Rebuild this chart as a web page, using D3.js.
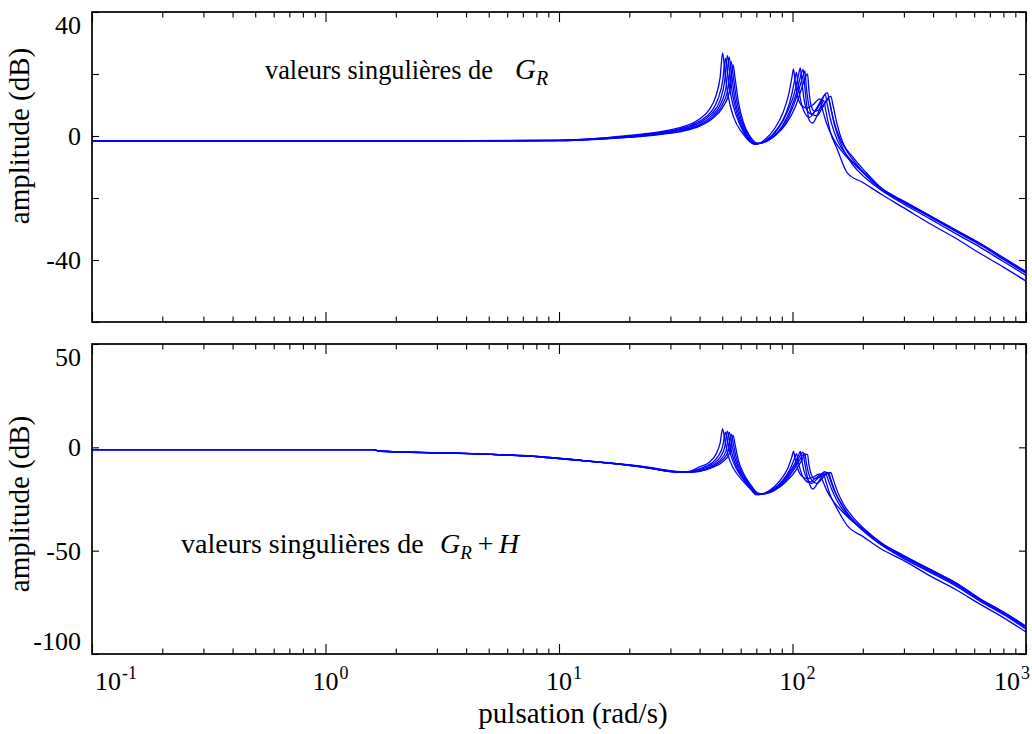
<!DOCTYPE html>
<html>
<head>
<meta charset="utf-8">
<script src="https://cdn.jsdelivr.net/npm/d3@7"></script>
<style>
  body { margin: 0; background: #fff; }
  svg, svg text { font-family: "Liberation Serif", "Times New Roman", serif; fill: #000; }
</style>
</head>
<body>
<div id="chart-container"></div>
<script>
// x axis (rad/s), log scale
const freqDomain = [0.1, 1000];
const decadeTicks = [0.1, 1, 10, 100, 1000];
const decadeExponents = ["-1", "0", "1", "2", "3"];

// y axis of each panel (dB)
const topDomain = [-60, 40];
const topTicks = [40, 20, 0, -20, -40, -60];
const topTickLabels = [40, 0, -40];
const bottomDomain = [-100, 50];
const bottomTicks = [50, 0, -50, -100];
const bottomTickLabels = [50, 0, -50, -100];

// singular values of G_R : [w (rad/s), dB]
const gr1 = [[0.1,-1.6],[3,-1.6],[10,-1.3],[16,-0.5],[22,0.5],[28,1.6],[34,3],[40,5.5],[44,8.5],[47,13],[49,19],[50.2,26.8],[51.3,21],[53,13],[56,6],[61,1],[66,-2],[69,-2.7],[76,-1.2],[84,2.5],[91,7.5],[96,13],[99.5,19],[101,21.6],[102.5,18],[105,13],[109,10],[115,9],[122,10],[128,11.5],[131,12],[134,9],[140,4],[150,-1],[165,-5.5],[180,-8.5],[210,-13],[240,-16.8],[300,-21],[390,-25.8],[500,-30.5],[640,-34.8],[800,-39.5],[1000,-44]];
const gr2 = [[0.1,-1.6],[3,-1.6],[10,-1.4],[16,-0.6],[22,0.3],[28,1.3],[34,2.6],[40,4.8],[45,8],[48,12],[50.3,18],[51.6,25],[52.8,20],[54.5,13],[57.5,6.5],[62,1],[67,-2.2],[70,-2.6],[77,-1.4],[86,2.3],[94,7.5],[99,13],[102.5,18.5],[104,20.5],[105.5,17],[108,12],[112,8],[118,6],[125,8],[133,11],[138,13.5],[141,10],[147,4],[156,-1.5],[170,-6],[190,-10],[240,-17.2],[300,-21.5],[390,-26.2],[500,-30.8],[640,-35.2],[800,-39.8],[1000,-44.3]];
const gr3 = [[0.1,-1.6],[3,-1.6],[10,-1.4],[16,-0.7],[22,0.2],[28,1.1],[34,2.3],[40,4.3],[45,7.2],[49,11.5],[51.3,18],[52.6,26],[53.8,20.5],[55.5,13],[58.5,6],[63,0.5],[68,-2.3],[71,-2.5],[79,-1],[88,3],[96,8.5],[102,14],[106,19.5],[108,22],[109.5,18],[112,12],[116,8],[121,7],[128,9.5],[135,12.5],[141,14],[144,11],[150,5],[160,-1],[175,-6],[195,-10.5],[240,-17],[300,-21.5],[390,-26],[500,-30.6],[640,-35],[800,-39.6],[1000,-44.2]];
const gr4 = [[0.1,-1.6],[3,-1.6],[10,-1.5],[16,-0.8],[22,0],[28,0.9],[34,2],[40,3.8],[45,6.5],[49,10],[52,16],[53.5,25.5],[54.8,20],[56.5,12.5],[59.5,5.5],[64,0.2],[69,-2.4],[72,-2.4],[80,-1],[90,3],[98,8.5],[104,14],[108.5,19.5],[111,21.5],[112.5,17],[115,10],[118,5],[122,4.2],[128,7],[133,10],[136,11.5],[139,8],[145,1.5],[155,-4],[172,-12],[200,-15],[240,-18.8],[300,-23.2],[390,-28.4],[500,-33],[640,-38],[800,-42.3],[1000,-46.8]];
const gr5 = [[0.1,-1.6],[3,-1.6],[10,-1.5],[16,-0.8],[22,-0.1],[28,0.8],[34,1.8],[40,3.5],[46,6.5],[50,10],[53,15.5],[54.6,24],[55.8,19],[57.5,12],[60.5,5],[65,0],[70,-2.4],[73,-2.3],[82,-0.5],[92,3.5],[100,9],[106,14.5],[110.5,19],[113,21],[114.5,16],[117,10.5],[121,7],[127,6.5],[134,9],[140,11.5],[143,12],[146,9],[152,3],[162,-3],[180,-9],[205,-13.5],[240,-17.5],[300,-22],[390,-26.8],[500,-31.5],[640,-36],[800,-40.5],[1000,-45]];
const gr6 = [[0.1,-1.6],[3,-1.6],[10,-1.5],[16,-0.9],[22,-0.2],[28,0.6],[34,1.6],[40,3.2],[46,6],[50,9],[54,15],[55.6,23],[56.8,18.5],[58.5,11.5],[61.5,4.5],[66,-0.3],[71,-2.4],[74,-2.2],[84,0],[94,4],[103,9.5],[109,15],[113.5,19],[116,20],[117.5,15],[120,10],[124,8],[130,8.5],[137,10.5],[143,12.5],[146,12.8],[149,10],[155,4],[165,-2.5],[180,-6.5],[205,-11.5],[240,-16.8],[300,-21.2],[390,-25.8],[500,-30.3],[640,-34.8],[800,-39.2],[1000,-43.7]];

// singular values of G_R + H : [w (rad/s), dB]
const grh1 = [[0.1,-1.1],[1.6,-1.1],[1.7,-1.8],[3.4,-2.7],[5.5,-3.5],[8.3,-4.5],[12.7,-6.4],[18,-8.0],[24,-9.6],[30,-11.3],[35,-11.9],[40,-9.5],[44,-7.2],[47,-3.4],[49,2.2],[50.2,8.9],[51.3,3.6],[53,-3.9],[56,-10.4],[61,-16.0],[66,-20.2],[70,-22.9],[76,-22.1],[84,-18.8],[91,-14.2],[96,-9.5],[99.5,-4.4],[101,-1.9],[102.5,-5.3],[105,-10],[109,-13.7],[115,-15.1],[122,-14.6],[128,-13.2],[131,-12.8],[134,-15.6],[140,-20.7],[150,-26.3],[165,-31.5],[180,-35.7],[210,-41.3],[240,-46.4],[300,-52.5],[390,-59.2],[500,-65.5],[640,-73.5],[800,-79.6],[1000,-86.6]];
const grh2 = [[0.1,-1.1],[1.6,-1.1],[1.7,-1.8],[3.4,-2.7],[5.5,-3.5],[8.3,-4.5],[12.7,-6.4],[18,-8.0],[24,-9.7],[30,-11.5],[35,-12.0],[40,-10.4],[45,-7.6],[48,-4.4],[50.3,0.8],[51.6,7.3],[52.8,2.6],[54.5,-3.9],[57.5,-10.4],[62,-16.0],[67,-20.7],[71,-22.9],[77,-22.1],[86,-18.8],[94,-13.7],[99,-9.0],[102.5,-4.8],[104,-3.0],[105.5,-6.2],[108,-10.9],[112,-15.1],[118,-17.0],[125,-15.1],[133,-12.8],[138,-11.8],[141,-14.6],[147,-20.2],[156,-26.3],[170,-32.4],[190,-37.5],[240,-46.6],[300,-52.9],[390,-59.5],[500,-66.0],[640,-73.8],[800,-80.0],[1000,-86.8]];
const grh3 = [[0.1,-1.1],[1.6,-1.1],[1.7,-1.8],[3.4,-2.8],[5.5,-3.5],[8.3,-4.5],[12.7,-6.4],[18,-8.0],[24,-9.8],[30,-11.6],[35,-12.1],[40,-10.9],[45,-8.3],[49,-4.8],[51.3,0.3],[52.6,7.8],[53.8,2.6],[55.5,-4.4],[58.5,-10.9],[63,-16.5],[68,-21.2],[72,-22.9],[79,-21.6],[88,-17.9],[96,-12.8],[102,-8.1],[106,-3.9],[108,-2.0],[109.5,-5.8],[112,-11.4],[116,-15.6],[121,-17.4],[128,-15.1],[135,-12.8],[141,-12.1],[144,-14.6],[150,-20.2],[160,-26.3],[175,-32.9],[195,-38.5],[240,-46.9],[300,-53.4],[390,-60.0],[500,-66.5],[640,-74.2],[800,-80.5],[1000,-87.3]];
const grh4 = [[0.1,-1.1],[1.6,-1.1],[1.7,-1.9],[3.4,-2.8],[5.5,-3.6],[8.3,-4.7],[12.7,-6.5],[18,-8.1],[24,-9.9],[30,-11.7],[35,-12.1],[40,-11.6],[45,-9.0],[49,-6.2],[52,-1.6],[53.5,7.3],[54.8,2.2],[56.5,-4.8],[59.5,-11.4],[64,-17.0],[69,-21.6],[73,-22.7],[80,-21.6],[90,-17.4],[98,-12.3],[104,-7.6],[108.5,-3.4],[111,-2.3],[112.5,-6.7],[115,-12.8],[118,-17.4],[122,-20.2],[128,-17.4],[133,-14.6],[136,-13.2],[139,-16.5],[145,-23.0],[155,-29.6],[172,-38.0],[200,-43.1],[240,-49.2],[300,-54.8],[390,-62.3],[500,-68.8],[640,-76.1],[800,-82.4],[1000,-89.4]];
const grh5 = [[0.1,-1.1],[1.6,-1.1],[1.7,-1.9],[3.4,-2.8],[5.5,-3.6],[8.3,-4.7],[12.7,-6.5],[18,-8.1],[24,-9.9],[30,-11.7],[35,-12.0],[40,-11.4],[46,-9.0],[50,-6.2],[53,-2.0],[54.6,6.4],[55.8,1.7],[57.5,-5.3],[60.5,-11.8],[65,-17.4],[70,-21.9],[74,-22.6],[82,-21.2],[92,-17.0],[100,-11.8],[106,-7.2],[110.5,-3.9],[113,-3.0],[114.5,-7.2],[117,-12.3],[121,-16.0],[127,-17.4],[134,-15.1],[140,-12.8],[143,-12.6],[146,-15.6],[152,-21.2],[162,-27.7],[180,-35.2],[205,-41.3],[240,-47.3],[300,-53.9],[390,-60.6],[500,-67.1],[640,-74.7],[800,-80.9],[1000,-88.0]];
const grh6 = [[0.1,-1.1],[1.6,-1.1],[1.7,-1.9],[3.4,-2.8],[5.5,-3.6],[8.3,-4.7],[12.7,-6.5],[18,-8.1],[24,-10.0],[30,-11.7],[35,-12.0],[40,-11.6],[46,-9.5],[50,-7.2],[54,-2.5],[55.6,5.9],[56.8,1.2],[58.5,-5.8],[61.5,-12.3],[66,-17.9],[71,-22.1],[75,-22.5],[84,-20.7],[94,-16.5],[103,-11.4],[109,-6.7],[113.5,-3.4],[116,-3.4],[117.5,-8.1],[120,-12.8],[124,-15.1],[130,-14.6],[137,-13.2],[143,-12.3],[146,-12.3],[149,-15.1],[155,-20.7],[165,-27.3],[180,-33.3],[205,-39.9],[240,-46.2],[300,-52.5],[390,-59.2],[500,-65.5],[640,-73.5],[800,-79.8],[1000,-86.6]];

const topSeries = [gr1, gr2, gr3, gr4, gr5, gr6];
const bottomSeries = [grh1, grh2, grh3, grh4, grh5, grh6];

const W = 1032, H = 734;
const left = 92, right = 1026;
const serif = '"Liberation Serif", "Times New Roman", serif';

const svg = d3.select("#chart-container")
    .append("svg")
    .attr("width", W)
    .attr("height", H)
    .attr("font-family", serif);

function serifText(parent, px, py, size, str, anchor) {
    const t = parent.append("text")
        .attr("x", px)
        .attr("y", py)
        .attr("text-anchor", anchor || "start")
        .style("font-size", size + "px")
        .text(str);
    t.width = t.node().getComputedTextLength();
    return t;
}

const x = d3.scaleLog().domain(freqDomain).range([left, right]);
const minorTicks = x.ticks().filter((d) => !decadeTicks.some((t) => Math.abs(t - d) < 1e-9));

function drawPanel(id, top, bottom, domain, ticks, tickLabels, series, titleY) {
    const y = d3.scaleLinear().domain(domain).range([bottom, top]);
    const g = svg.append("g");

    g.append("clipPath").attr("id", "clip-" + id)
        .append("rect")
        .attr("x", left).attr("y", top)
        .attr("width", right - left).attr("height", bottom - top);

    // the curves
    const line = d3.line()
        .x((d) => x(d[0]))
        .y((d) => y(d[1]))
        .curve(d3.curveMonotoneX);

    g.append("g")
        .attr("clip-path", "url(#clip-" + id + ")")
        .selectAll("path")
        .data(series)
        .enter()
        .append("path")
        .attr("fill", "none")
        .attr("stroke", "#0000ff")
        .attr("stroke-width", 1.3)
        .attr("d", line);

    // inward ticks on the four sides
    const tickAxis = (axis, size, values) => axis.tickValues(values).tickSizeInner(size).tickSizeOuter(0).tickFormat("");
    const addAxis = (transform, axis) => {
        const a = g.append("g").attr("transform", transform).call(axis);
        a.select(".domain").remove();
        a.selectAll("line").attr("stroke", "#000").attr("stroke-width", 1.1);
    };
    addAxis(`translate(0,${bottom})`, tickAxis(d3.axisBottom(x), -10, decadeTicks));
    addAxis(`translate(0,${bottom})`, tickAxis(d3.axisBottom(x), -5.5, minorTicks));
    addAxis(`translate(0,${top})`, tickAxis(d3.axisTop(x), -10, decadeTicks));
    addAxis(`translate(0,${top})`, tickAxis(d3.axisTop(x), -5.5, minorTicks));
    addAxis(`translate(${left},0)`, tickAxis(d3.axisLeft(y), -7, ticks));
    addAxis(`translate(${right},0)`, tickAxis(d3.axisRight(y), -7, ticks));

    // frame
    g.append("rect")
        .attr("x", left).attr("y", top)
        .attr("width", right - left).attr("height", bottom - top)
        .attr("fill", "none")
        .attr("stroke", "#000")
        .attr("stroke-width", 1.7);

    // y tick labels, kept inside the frame height
    tickLabels.forEach((d) => {
        const py = Math.min(Math.max(y(d), top + 13), bottom - 13);
        serifText(g, left - 11, py + 9, 26, String(d), "end");
    });

    // y axis title
    g.append("text")
        .attr("transform", `translate(29,${titleY}) rotate(-90)`)
        .attr("text-anchor", "middle")
        .style("font-size", "29px")
        .text("amplitude (dB)");

    return y;
}

drawPanel("top", 12, 322, topDomain, topTicks, topTickLabels, topSeries, 136);
drawPanel("bottom", 344, 654, bottomDomain, bottomTicks, bottomTickLabels, bottomSeries, 504);

// x tick labels 10^n under the lower panel
decadeTicks.forEach((t, i) => {
    const px = x(t);
    const base = serifText(svg, 0, 690, 26, "10", "start");
    const sup = serifText(svg, 0, 679, 18, decadeExponents[i], "start");
    const total = base.width + 1 + sup.width;
    let start;
    if (i === 0) start = px + 3;
    else if (i === decadeTicks.length - 1) start = px + 4 - total;
    else start = px - base.width / 2;
    base.attr("x", start);
    sup.attr("x", start + base.width + 1);
});

// x axis title
svg.append("text")
    .attr("x", 573)
    .attr("y", 723)
    .attr("text-anchor", "middle")
    .style("font-size", "29px")
    .text("pulsation (rad/s)");

// annotations
function annotate(xText, xMath, yBase, textSize, mathSize, withH) {
    serifText(svg, xText, yBase, textSize, "valeurs singulières de", "start");
    const m = svg.append("text")
        .attr("x", xMath).attr("y", yBase)
        .style("font-size", mathSize + "px")
        .style("font-style", "italic");
    m.append("tspan").text("G");
    m.append("tspan")
        .attr("dy", 6)
        .style("font-size", Math.round(mathSize * 0.68) + "px")
        .text("R");
    if (withH) {
        m.append("tspan")
            .attr("dy", -6)
            .attr("dx", 6)
            .style("font-style", "normal")
            .text("+");
        m.append("tspan")
            .attr("dx", 5)
            .text("H");
    }
}
annotate(265, 515, 79, 26.3, 29, false);
annotate(181, 440, 553, 28, 28, true);
</script>
</body>
</html>
